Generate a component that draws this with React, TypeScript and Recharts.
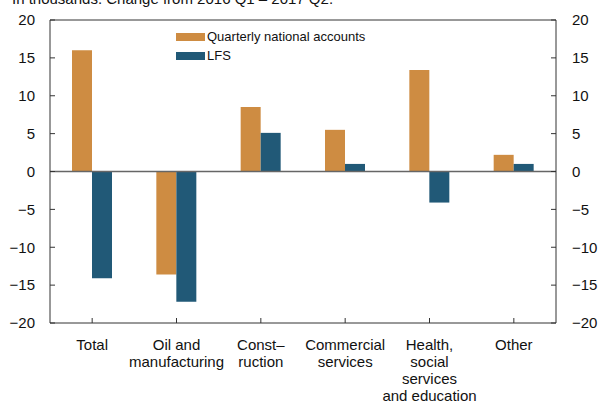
import React from 'react';
import { BarChart, Bar, XAxis, YAxis, Legend, ReferenceLine } from 'recharts';

const categories = [
  'Total',
  'Oil and\nmanufacturing',
  'Const–\nruction',
  'Commercial\nservices',
  'Health,\nsocial\nservices\nand education',
  'Other',
];
const nationalAccounts = [16.0, -13.6, 8.5, 5.5, 13.4, 2.2];
const lfs = [-14.1, -17.2, 5.1, 1.0, -4.1, 1.0];
const yTicks = [-20, -15, -10, -5, 0, 5, 10, 15, 20];

const ORANGE = '#CE8C42';
const BLUE = '#215977';
const FONT = '"Liberation Sans", Arial, Helvetica, sans-serif';

const data = categories.map((c, i) => ({
  name: c,
  qna: nationalAccounts[i],
  lfs: lfs[i],
}));

const fmt = (v: number) => (v < 0 ? `\u2212${Math.abs(v)}` : `${v}`);

// ticks point inward, so draw them ourselves next to the label
const LeftTick = (props: any) => {
  const { x, y, payload } = props;
  const ax = x + 15;
  return (
    <g>
      <line x1={ax} x2={ax + 5} y1={y} y2={y} stroke="#333" />
      <text x={x} y={y} dy="0.35em" textAnchor="end" fontSize={15} fill="#111" fontFamily={FONT}>
        {fmt(payload.value)}
      </text>
    </g>
  );
};

const RightTick = (props: any) => {
  const { x, y, payload } = props;
  const ax = x - 16;
  return (
    <g>
      <line x1={ax - 5} x2={ax} y1={y} y2={y} stroke="#333" />
      <text x={x} y={y} dy="0.35em" textAnchor="start" fontSize={15} fill="#111" fontFamily={FONT}>
        {fmt(payload.value)}
      </text>
    </g>
  );
};

const BottomTick = (props: any) => {
  const { x, y, payload } = props;
  const lines = String(payload.value).split('\n');
  return (
    <g>
      <line x1={x} x2={x} y1={y - 5} y2={y} stroke="#333" />
      {lines.map((l, i) => (
        <text key={i} x={x} y={y + 26.5 + i * 17.2} textAnchor="middle" fontSize={15} fill="#111" fontFamily={FONT}>
          {l}
        </text>
      ))}
    </g>
  );
};

const legendItems = [
  { name: 'Quarterly national accounts', color: ORANGE },
  { name: 'LFS', color: BLUE },
];

const renderLegend = () => (
  <div style={{ fontFamily: FONT, fontSize: 13, color: '#111' }}>
    {legendItems.map((s) => (
      <div key={s.name} style={{ display: 'flex', alignItems: 'center', height: 19 }}>
        <span style={{ display: 'inline-block', width: 29, height: 8, background: s.color, marginRight: 2 }} />
        {s.name}
      </div>
    ))}
  </div>
);

export default function App() {
  return (
    <div style={{ position: 'absolute', left: 0, top: 0, width: 601, height: 403, overflow: 'hidden', background: '#fff' }}>
      <div
        style={{
          position: 'absolute',
          left: 12,
          top: -10,
          fontFamily: FONT,
          fontSize: 15,
          lineHeight: '17px',
          color: '#111',
          whiteSpace: 'nowrap',
        }}
      >
        In thousands. Change from 2016 Q1 – 2017 Q2.
      </div>
      <BarChart
        width={601}
        height={403}
        data={data}
        margin={{ top: 20, right: 0, left: 0, bottom: 0 }}
        barGap={0}
        barSize={20}
      >
        <XAxis
          dataKey="name"
          interval={0}
          height={80}
          tickSize={0}
          tickMargin={0}
          tick={<BottomTick />}
          axisLine={{ stroke: '#333' }}
          tickLine={false}
        />
        <YAxis
          yAxisId="left"
          width={50}
          domain={[-20, 20]}
          ticks={yTicks}
          tickSize={0}
          tickMargin={15}
          tick={<LeftTick />}
          axisLine={{ stroke: '#333' }}
          tickLine={false}
        />
        <YAxis
          yAxisId="right"
          orientation="right"
          width={45}
          domain={[-20, 20]}
          ticks={yTicks}
          tickSize={0}
          tickMargin={16}
          tick={<RightTick />}
          axisLine={{ stroke: '#333' }}
          tickLine={false}
          allowDataOverflow
        />
        <Legend
          layout="vertical"
          align="center"
          verticalAlign="middle"
          content={renderLegend}
          wrapperStyle={{ left: 176, top: 27, width: 'auto' }}
        />
        <Bar yAxisId="left" dataKey="qna" name="Quarterly national accounts" fill={ORANGE} isAnimationActive={false} />
        <Bar yAxisId="left" dataKey="lfs" name="LFS" fill={BLUE} isAnimationActive={false} />
        <ReferenceLine yAxisId="left" y={0} stroke="#666" strokeWidth={1.5} />
        <ReferenceLine yAxisId="right" y={20} stroke="#333" ifOverflow="extendDomain" />
      </BarChart>
    </div>
  );
}
